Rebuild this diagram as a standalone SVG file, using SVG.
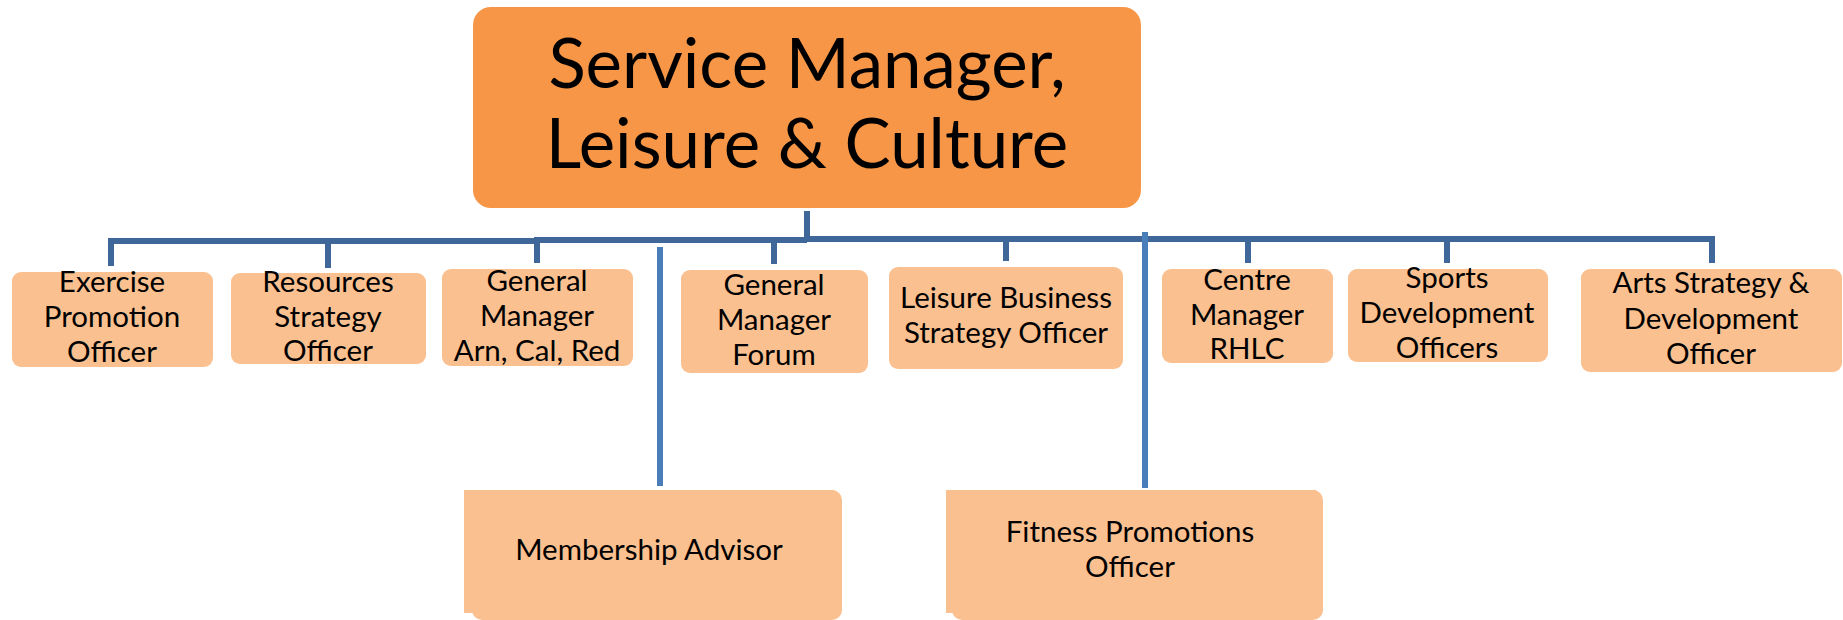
<svg xmlns="http://www.w3.org/2000/svg" width="1843" height="620" viewBox="0 0 1843 620">
<style>
.root{fill:#F79646;}
.box{fill:#FAC090;}
.t{font-family:Lato,"Liberation Sans",sans-serif;fill:#000;text-anchor:middle;}
.big{font-size:69px;}
.sm{font-size:29.5px;}
.ln{fill:none;stroke:#40679A;stroke-width:6;stroke-linejoin:miter;}
.lt{fill:none;stroke:#4A7EBB;stroke-width:6;}
</style>
<rect width="1843" height="620" fill="#fff"/>
<g id="connectors">
<path class="ln" d="M807 211 V240"/>
<path class="ln" d="M111 266 V241 H537 V240 H807"/>
<path class="ln" d="M807 239 H1712 V263"/>
<path class="ln" d="M328 241 V268"/>
<path class="ln" d="M537 240 V263"/>
<path class="ln" d="M774 240 V264"/>
<path class="ln" d="M1006 239 V261"/>
<path class="ln" d="M1248 239 V263"/>
<path class="ln" d="M1447 239 V263"/>
<path class="lt" d="M660 247 V486"/>
<path class="lt" d="M1145 232 V488"/>
</g>
<g id="n-root">
<rect class="root" x="473" y="7" width="668" height="201" rx="18"/>
<text class="t big" x="807" y="88">Service Manager,</text>
<text class="t big" x="807" y="168">Leisure &amp; Culture</text>
</g>
<g id="n-exercise">
<rect class="box" x="12" y="272" width="201" height="95" rx="9"/>
<text class="t sm" x="112" y="292">Exercise</text>
<text class="t sm" x="112" y="327">Promotion</text>
<text class="t sm" x="112" y="362">Officer</text>
</g>
<g id="n-resources">
<rect class="box" x="231" y="273" width="195" height="91" rx="9"/>
<text class="t sm" x="328" y="292">Resources</text>
<text class="t sm" x="328" y="327">Strategy</text>
<text class="t sm" x="328" y="361">Officer</text>
</g>
<g id="n-gm-arn">
<rect class="box" x="442" y="269" width="191" height="97" rx="9"/>
<text class="t sm" x="537" y="291">General</text>
<text class="t sm" x="537" y="326">Manager</text>
<text class="t sm" x="537" y="361">Arn, Cal, Red</text>
</g>
<g id="n-gm-forum">
<rect class="box" x="681" y="270" width="187" height="103" rx="9"/>
<text class="t sm" x="774" y="295">General</text>
<text class="t sm" x="774" y="330">Manager</text>
<text class="t sm" x="774" y="365">Forum</text>
</g>
<g id="n-lbso">
<rect class="box" x="889" y="267" width="234" height="102" rx="9"/>
<text class="t sm" x="1006" y="308">Leisure Business</text>
<text class="t sm" x="1006" y="343">Strategy Officer</text>
</g>
<g id="n-centre">
<rect class="box" x="1162" y="269" width="171" height="94" rx="9"/>
<text class="t sm" x="1247" y="290">Centre</text>
<text class="t sm" x="1247" y="325">Manager</text>
<text class="t sm" x="1247" y="359">RHLC</text>
</g>
<g id="n-sports">
<rect class="box" x="1348" y="269" width="200" height="93" rx="9"/>
<text class="t sm" x="1447" y="288">Sports</text>
<text class="t sm" x="1447" y="323">Development</text>
<text class="t sm" x="1447" y="358">Officers</text>
</g>
<g id="n-arts">
<rect class="box" x="1581" y="269" width="261" height="103" rx="9"/>
<text class="t sm" x="1711" y="293">Arts Strategy &amp;</text>
<text class="t sm" x="1711" y="329">Development</text>
<text class="t sm" x="1711" y="364">Officer</text>
</g>
<g id="n-membership">
<rect class="box" x="464" y="490" width="370" height="123"/>
<rect class="box" x="472" y="490" width="370" height="130" rx="10"/>
<text class="t sm" x="649" y="560">Membership Advisor</text>
</g>
<g id="n-fitness">
<rect class="box" x="946" y="490" width="370" height="123"/>
<rect class="box" x="952" y="490" width="371" height="130" rx="10"/>
<text class="t sm" x="1130" y="542">Fitness Promotions</text>
<text class="t sm" x="1130" y="577">Officer</text>
</g>
</svg>
